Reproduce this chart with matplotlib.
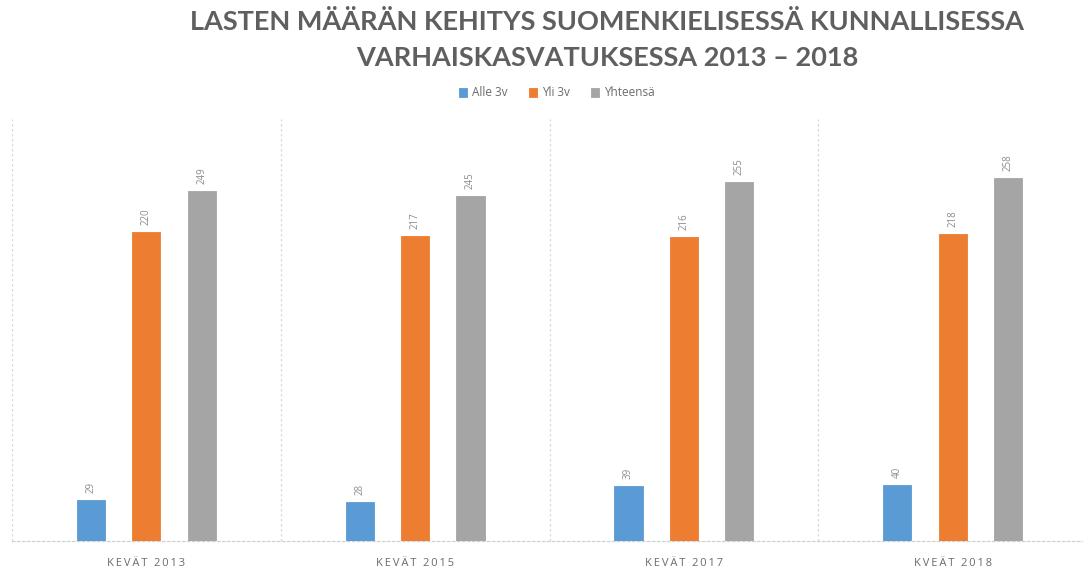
import matplotlib
matplotlib.use("Agg")
import matplotlib.pyplot as plt
import numpy as np

categories = ["KEVÄT 2013", "KEVÄT 2015", "KEVÄT 2017", "KVEÄT 2018"]
series_names = ["Alle 3v", "Yli 3v", "Yhteensä"]
alle3 = [29, 28, 39, 40]
yli3 = [220, 217, 216, 218]
yhteensa = [249, 245, 255, 258]
title = "LASTEN MÄÄRÄN KEHITYS SUOMENKIELISESSÄ KUNNALLISESSA\nVARHAISKASVATUKSESSA 2013 – 2018"

colors = ["#5B9BD5", "#ED7D31", "#A5A5A5"]
W, H = 1083, 572
fig = plt.figure(figsize=(W / 100, H / 100), dpi=100)
ax = fig.add_axes([12 / W, 1 - 541 / H, (1087 - 12) / W, (541 - 119) / H])

x = np.arange(len(categories))
bw = 0.105
offs = [-0.206, 0, 0.206]
all_series = [alle3, yli3, yhteensa]
for i, (vals, c, name) in enumerate(zip(all_series, colors, series_names)):
    bars = ax.bar(x + offs[i], vals, width=bw, color=c, label=name,
                  edgecolor=c, linewidth=0.6, zorder=3)
    for b, v in zip(bars, vals):
        ax.annotate(str(v), (b.get_x() + b.get_width() / 2, b.get_height()),
                    xytext=(0, 5), textcoords="offset points", rotation=90,
                    ha="center", va="bottom", fontsize=7, color="#8c8c8c",
                    family="Open Sans")

ax.set_xlim(-0.5, len(categories) - 0.5)
ax.set_ylim(0, 300)
for s in ["top", "right", "left"]:
    ax.spines[s].set_visible(False)
ax.spines["bottom"].set_color("#d0d0d0")
ax.spines["bottom"].set_linestyle((0, (2, 2)))
ax.spines["bottom"].set_linewidth(0.9)
for b in np.arange(-0.5, len(categories), 1.0):
    ax.axvline(b, color="#d9d9d9", linestyle=(0, (2, 2)), linewidth=0.9, zorder=1)
ax.set_yticks([])
ax.set_xticks(x)
spaced = ["\u2009".join(list(c)) for c in categories]
ax.set_xticklabels(spaced, fontsize=8, color="#6b6b6b", family="Open Sans")
ax.tick_params(axis="x", length=0, pad=12)

fig.text(607 / W, 1 - 40 / H, title, ha="center", va="center", fontsize=19.5,
         fontweight="bold", color="#5f5f5f", family="Lato", linespacing=1.6)

leg = fig.legend(loc="center", bbox_to_anchor=(557 / W, 1 - 93 / H), ncol=3,
                 frameon=False, handlelength=0.7, handleheight=0.7,
                 handletextpad=0.4, columnspacing=1.8,
                 prop={"family": "Open Sans", "size": 8.5})
for t in leg.get_texts():
    t.set_color("#6b6b6b")

fig.savefig("out.png", dpi=100)
